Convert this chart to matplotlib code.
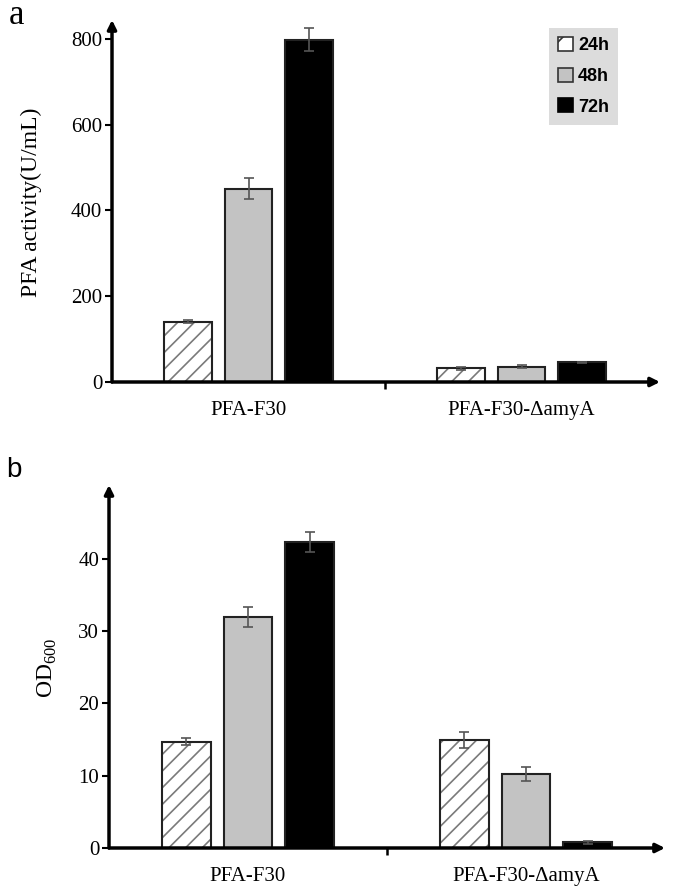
import matplotlib
matplotlib.use("Agg")
import matplotlib.pyplot as plt
import numpy as np
from matplotlib.patches import Patch

plt.rcParams['font.family'] = ['Liberation Serif', 'DejaVu Serif']
plt.rcParams['mathtext.fontset'] = 'custom'
plt.rcParams['mathtext.rm'] = 'Liberation Serif'
plt.rcParams['hatch.linewidth'] = 1.2

categories = ["PFA-F30", "PFA-F30-\u0394amyA"]
series = ["24h", "48h", "72h"]

activity = {"24h": [141, 32], "48h": [451, 36], "72h": [798, 46]}
activity_err = {"24h": [3, 3], "48h": [25, 3], "72h": [27, 1]}

od600 = {"24h": [14.7, 14.9], "48h": [31.9, 10.2], "72h": [42.3, 0.8]}
od600_err = {"24h": [0.5, 1.1], "48h": [1.4, 1.0], "72h": [1.4, 0.2]}

fills = {"24h": "white", "48h": "#c3c3c3", "72h": "black"}

fig = plt.figure(figsize=(6.75, 8.89), dpi=100)

def draw_panel(ax, vals, errs, ymax, yticks, xmax):
    x = np.arange(len(categories))
    width = 0.175
    offsets = [-0.222, 0.0, 0.222]
    for s, off in zip(series, offsets):
        xs = x + off
        if s == "24h":
            ax.bar(xs, vals[s], width, color="white", hatch="//",
                   edgecolor="#7a7a7a", linewidth=0, zorder=2)
            ax.bar(xs, vals[s], width, facecolor="none",
                   edgecolor="#222222", linewidth=1.5, zorder=3)
        else:
            ax.bar(xs, vals[s], width, color=fills[s],
                   edgecolor="#222222", linewidth=1.5, zorder=2)
        ax.errorbar(xs, vals[s], yerr=errs[s], fmt="none", ecolor="#555555",
                    elinewidth=1.2, capsize=3.5, capthick=1.2, zorder=4)
    ax.set_xlim(-0.5, xmax)
    ax.set_ylim(0, ymax)
    for sp in ax.spines.values():
        sp.set_visible(False)
    ax.set_xticks(x)
    ax.set_xticklabels(categories, fontsize=15)
    ax.tick_params(axis="x", which="major", length=0, pad=14)
    ax.set_xticks([0.5], minor=True)
    ax.tick_params(axis="x", which="minor", length=5, width=1.8,
                   direction="out", color="black")
    ax.set_yticks(yticks)
    ax.tick_params(axis="y", length=5, width=1.5, direction="out",
                   labelsize=15, pad=2)
    ax.annotate("", xy=(0, 1), xytext=(0, 0), xycoords="axes fraction",
                arrowprops=dict(arrowstyle="-|>", lw=2.5, color="black",
                                mutation_scale=13, shrinkA=0, shrinkB=0))
    ax.annotate("", xy=(1, 0), xytext=(0, 0), xycoords="axes fraction",
                arrowprops=dict(arrowstyle="-|>", lw=2.5, color="black",
                                mutation_scale=13, shrinkA=0, shrinkB=0))

ax1 = fig.add_axes([112/675, 1-382/889, (660-112)/675, (382-20)/889])
draw_panel(ax1, activity, activity_err, 844, [0, 200, 400, 600, 800], 1.507)

ax2 = fig.add_axes([109/675, 1-848/889, (665-109)/675, (848-485)/889])
draw_panel(ax2, od600, od600_err, 50.2, [0, 10, 20, 30, 40], 1.5)

fig.text(31/675, 1-202/889, "PFA activity(U/mL)", rotation=90,
         ha="center", va="center", fontsize=17)
fig.text(47/675, 1-668/889, r"OD$_{600}$", rotation=90,
         ha="center", va="center", fontsize=17)

fig.text(17/675, 1-15/889, "a", ha="center", va="center", fontsize=25)
fig.text(14/675, 1-470/889, "b", ha="center", va="center", fontsize=20,
         family="Liberation Sans")

handles = [Patch(facecolor="white", edgecolor="#333333", hatch="/", linewidth=1.2),
           Patch(facecolor="#c3c3c3", edgecolor="#333333", linewidth=1.2),
           Patch(facecolor="black", edgecolor="black", linewidth=1.2)]
leg = fig.legend(handles, series, loc="upper right",
                 bbox_to_anchor=(618/675, 1-28/889), bbox_transform=fig.transFigure,
                 prop={"family": "Liberation Sans", "weight": "bold", "size": 13},
                 frameon=True, facecolor="#dcdcdc", edgecolor="none", framealpha=1,
                 fancybox=False, handlelength=0.8, handleheight=0.8,
                 handletextpad=0.3, labelspacing=0.75, borderpad=0.5,
                 borderaxespad=0)

fig.savefig("out.png", dpi=100)
